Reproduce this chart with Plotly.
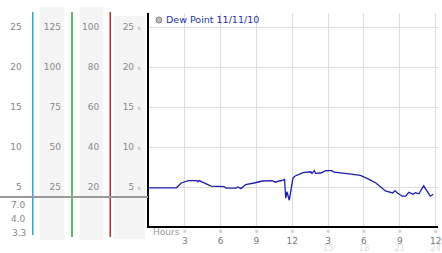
import plotly.graph_objects as go

W, H = 442, 253

# ---------------- data ----------------
hours = [0, 2.3, 2.7, 3.0, 3.3, 4.0, 4.1, 4.2, 4.5, 5.2, 6.3, 6.45, 7.3, 7.45, 7.7,
         8.1, 8.8, 9.5, 10.3, 10.6, 10.9, 11.25, 11.35, 11.45, 11.55, 11.75, 11.85,
         11.95, 12.05, 12.2, 12.9, 13.55, 13.65, 13.85, 13.95, 14.4, 14.8, 15.3, 15.5,
         16.75, 17.7, 18.3, 19.0, 19.8, 20.4, 20.6, 20.8, 21.2, 21.5, 21.75, 22.1,
         22.3, 22.6, 23.0, 23.55, 23.8]
dew_point = [4.9, 4.9, 5.5, 5.7, 5.8, 5.8, 5.65, 5.8, 5.6, 5.1, 5.05, 4.85, 4.85, 5.0, 4.8,
             5.3, 5.5, 5.75, 5.8, 5.6, 5.75, 5.85, 6.0, 3.6, 4.4, 3.35, 4.3,
             5.5, 6.1, 6.35, 6.8, 6.9, 6.7, 7.05, 6.7, 6.75, 7.05, 7.05, 6.85,
             6.65, 6.45, 6.05, 5.5, 4.5, 4.25, 4.55, 4.25, 3.85, 3.85, 4.35, 4.1,
             4.3, 4.15, 5.15, 3.85, 4.1]
series_name = "Dew Point 11/11/10"

main_ticks = [25, 20, 15, 10, 5]
col3_ticks = [100, 80, 60, 40, 20]
col2_ticks = [125, 100, 75, 50, 25]
col1_ticks = [25, 20, 15, 10, 5]
col3_scale, col2_scale, col1_scale = 4, 5, 1

x_tickvals = [3, 6, 9, 12, 15, 18, 21, 24]
x_ticktext = ["3", "6", "9", "12", "3", "6", "9", "12"]
x2_tickvals = [15, 18, 21, 24]
x2_ticktext = ["15", "18", "21", "24"]
current_labels = ["7.0", "4.0", "3.3"]
x_title = "Hours"

Y_RANGE = [0.125, 26.75]
X_RANGE = [0, 24.2]


def px(x):
    return x / W


def py(y):
    return 1 - y / H


FONT = "DejaVu Sans"
MARK = "<span style='font-size:5px;color:#aaaaaa'>\u203b</span>"

fig = go.Figure()
fig.add_trace(go.Scatter(x=hours, y=dew_point, mode="lines",
                         line=dict(color="#1c1cb0", width=1.3),
                         showlegend=False, hoverinfo="skip"))
# empty traces to attach the extra axes
for ya in ["y2", "y3", "y4"]:
    fig.add_trace(go.Scatter(x=[None], y=[None], xaxis="x", yaxis=ya,
                             showlegend=False, hoverinfo="skip"))
for xa in ["x2", "x3"]:
    fig.add_trace(go.Scatter(x=[None], y=[None], xaxis=xa, yaxis="y",
                             showlegend=False, hoverinfo="skip"))

tickfont = dict(family=FONT, size=9, color="#888888")

fig.update_layout(
    width=W, height=H,
    margin=dict(l=0, r=0, t=0, b=0),
    paper_bgcolor="white", plot_bgcolor="white",
    font=dict(family=FONT, size=9, color="#888888"),
    showlegend=False,
    xaxis=dict(domain=[px(150), px(441)], range=X_RANGE,
               tickvals=x_tickvals, ticktext=x_ticktext,
               showgrid=True, gridcolor="#dddddd", gridwidth=1,
               showline=True, linecolor="black", linewidth=2,
               zeroline=False, ticks="", ticklabelstandoff=5,
               ticklabeloverflow="allow",
               tickfont=dict(family=FONT, size=9, color="#777777"),
               anchor="y", fixedrange=True),
    xaxis2=dict(overlaying="x", anchor="free", position=py(226), side="bottom",
                range=X_RANGE, tickvals=x2_tickvals, ticktext=x2_ticktext,
                showgrid=False, showline=False, zeroline=False, ticks="",
                ticklabelstandoff=15, ticklabeloverflow="allow",
                tickfont=dict(family=FONT, size=8.5, color="#dddddd")),
    xaxis3=dict(overlaying="x", anchor="free", position=py(226), side="bottom",
                range=X_RANGE, tickvals=x_tickvals,
                ticktext=["\u203b"] * len(x_tickvals),
                showgrid=False, showline=False, zeroline=False, ticks="",
                ticklabelstandoff=1, ticklabeloverflow="allow",
                tickfont=dict(family=FONT, size=5, color="#aaaaaa")),
    yaxis=dict(domain=[py(226), py(13)], range=Y_RANGE,
               tickvals=main_ticks,
               ticktext=[f"{v} {MARK}" for v in main_ticks],
               showgrid=True, gridcolor="#dddddd", gridwidth=1,
               showline=True, linecolor="black", linewidth=2,
               zeroline=False, ticks="", ticklabelstandoff=4,
               tickfont=tickfont, anchor="x", fixedrange=True),
    yaxis2=dict(overlaying="y", anchor="free", position=px(111), side="left",
                range=[r * col3_scale for r in Y_RANGE], tickvals=col3_ticks,
                showgrid=False, showline=False, zeroline=False, ticks="",
                ticklabelstandoff=11, tickfont=tickfont),
    yaxis3=dict(overlaying="y", anchor="free", position=px(72.5), side="left",
                range=[r * col2_scale for r in Y_RANGE], tickvals=col2_ticks,
                showgrid=False, showline=False, zeroline=False, ticks="",
                ticklabelstandoff=11, tickfont=tickfont),
    yaxis4=dict(overlaying="y", anchor="free", position=px(33), side="left",
                range=[r * col1_scale for r in Y_RANGE], tickvals=col1_ticks,
                showgrid=False, showline=False, zeroline=False, ticks="",
                ticklabelstandoff=11, tickfont=tickfont),
)

shapes = []
# gray bands
for x0, x1, y0, y1 in [(40, 65, 7, 240), (80, 104, 7, 240), (115, 146, 16, 239)]:
    shapes.append(dict(type="rect", xref="paper", yref="paper",
                       x0=px(x0), x1=px(x1), y0=py(y1), y1=py(y0),
                       fillcolor="#f4f4f4", line=dict(width=0), layer="below"))
# coloured axis lines
for x, col, y1 in [(33, "#3a9fcc", 235), (72.5, "#33a033", 237), (111, "#b03030", 237)]:
    shapes.append(dict(type="line", xref="paper", yref="paper",
                       x0=px(x), x1=px(x), y0=py(12), y1=py(y1),
                       line=dict(color=col, width=1.5)))
# gray separator
shapes.append(dict(type="line", xref="paper", yref="paper",
                   x0=0, x1=px(149), y0=py(197), y1=py(197),
                   line=dict(color="#999999", width=2)))
# legend marker
shapes.append(dict(type="circle", xref="paper", yref="paper",
                   x0=px(157), x1=px(163), y0=py(23), y1=py(17),
                   fillcolor="#bbbbbb", line=dict(color="#888888", width=1)))
fig.update_layout(shapes=shapes)

ann = [
    dict(text=series_name, x=px(165), y=py(20), xref="paper", yref="paper",
         xanchor="left", yanchor="middle", showarrow=False,
         font=dict(family=FONT, size=9.5, color="#2233aa")),
    dict(text=x_title, x=px(152), y=py(231.5), xref="paper", yref="paper",
         xanchor="left", yanchor="middle", showarrow=False,
         font=dict(family=FONT, size=9, color="#999999")),
]
for lab, yy in zip(current_labels, [205, 218.5, 232.5]):
    ann.append(dict(text=lab, x=px(28), y=py(yy), xref="paper", yref="paper",
                    xanchor="right", yanchor="middle", showarrow=False,
                    font=dict(family=FONT, size=9, color="#888888")))
fig.update_layout(annotations=ann)

fig.write_html("out.html")
